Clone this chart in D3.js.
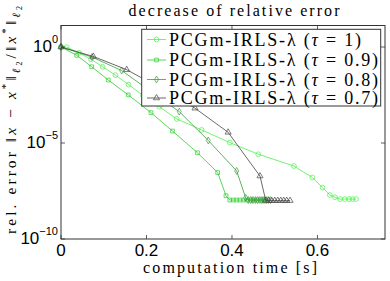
<!DOCTYPE html>
<html>
<head>
<meta charset="utf-8">
<script src="https://cdn.jsdelivr.net/npm/d3@7"></script>
<style>
  body { margin: 0; background: #fff; }
  svg { display: block; }
</style>
</head>
<body>
<div id="chart"></div>
<script>
// Width and height
var chart_width  = 390;
var chart_height = 281;
var margin = {left: 61, top: 25.5, right: 5, bottom: 42};

// data: computation time [s] and relative error
var time_tau1 = [0, 0.0133, 0.0421, 0.0702, 0.0975, 0.1275, 0.158, 0.192, 0.230, 0.2706, 0.329, 0.395,
                 0.4615, 0.545, 0.588, 0.612, 0.629, 0.641, 0.653, 0.664, 0.674, 0.682, 0.690];
var err_tau1  = [1, 0.98, 0.50, 0.23, 0.093, 0.034, 0.011, 3.0e-3, 7.8e-4, 1.8e-4, 4.8e-5, 1.05e-5,
                 2.6e-6, 6.3e-7, 1.6e-7, 4.7e-8, 1.95e-8, 1.5e-8, 1.2e-8, 1.2e-8, 1.2e-8, 1.2e-8, 1.2e-8];

var time_tau09 = [0, 0.0367, 0.0718, 0.1106, 0.1574, 0.2105, 0.2608, 0.3193, 0.3665, 0.386, 0.395,
                  0.403, 0.411, 0.419, 0.427, 0.435, 0.443, 0.451, 0.459, 0.467, 0.475];
var err_tau09  = [1, 0.37, 0.093, 0.019, 3.2e-3, 3.8e-4, 4.2e-5, 3.1e-6, 2.9e-7, 1.8e-8, 1.07e-8,
                  1.07e-8, 1.07e-8, 1.07e-8, 1.07e-8, 1.07e-8, 1.07e-8, 1.07e-8, 1.07e-8, 1.07e-8, 1.07e-8];

var time_tau08 = [0, 0.0725, 0.142, 0.209, 0.2767, 0.3446, 0.411, 0.432,
                  0.438, 0.444, 0.449, 0.455, 0.460, 0.465, 0.470, 0.475, 0.480, 0.485, 0.490];
var err_tau08  = [1, 0.30, 0.059, 5.1e-3, 4.3e-4, 1.35e-5, 3.5e-7, 1.4e-8,
                  1.07e-8, 1.07e-8, 1.07e-8, 1.07e-8, 1.07e-8, 1.07e-8, 1.07e-8, 1.07e-8, 1.07e-8, 1.07e-8, 1.07e-8];

var time_tau07 = [0, 0.0756, 0.1537, 0.234, 0.3135, 0.391, 0.4655, 0.479,
                  0.486, 0.493, 0.500, 0.507, 0.514, 0.521, 0.528, 0.536];
var err_tau07  = [1, 0.32, 0.066, 6.9e-3, 6.5e-4, 3.6e-5, 1.9e-7, 1.02e-8,
                  1.0e-8, 1.0e-8, 1.0e-8, 1.0e-8, 1.0e-8, 1.0e-8, 1.0e-8, 1.0e-8];

var tau_labels = ["1", "0.9", "0.8", "0.7"];
var x_ticks = [0, 0.2, 0.4, 0.6];
var y_tick_exps = [0, -5, -10];

var series = [
  {tau: tau_labels[0], t: time_tau1,  e: err_tau1,  color: "#4cf04c", marker: "circle"},
  {tau: tau_labels[1], t: time_tau09, e: err_tau09, color: "#2ecc2e", marker: "square"},
  {tau: tau_labels[2], t: time_tau08, e: err_tau08, color: "#3c9a3c", marker: "diamond"},
  {tau: tau_labels[3], t: time_tau07, e: err_tau07, color: "#444444", marker: "triangle"}
];

var svg = d3.select("#chart")
  .append("svg")
  .attr("width", chart_width)
  .attr("height", chart_height);

var x = d3.scaleLinear()
  .domain([0, 0.758])
  .range([margin.left, chart_width - margin.right]);

var y = d3.scaleLog()
  .domain([1e-10, Math.pow(10, 1.12)])
  .range([chart_height - margin.bottom, margin.top]);

var serif = "'Liberation Serif', 'DejaVu Serif', serif";
var sans = "'Liberation Sans', Arial, sans-serif";

// lines
var line = d3.line()
  .x(function(d){ return x(d[0]); })
  .y(function(d){ return y(d[1]); });

var symbols = {
  circle: d3.symbolCircle,
  square: d3.symbolSquare,
  diamond: d3.symbolDiamond,
  triangle: d3.symbolTriangle
};
var sym_size = {circle: 18, square: 14, diamond: 14, triangle: 16};

series.forEach(function(s){
  var pts = s.t.map(function(t, i){ return [t, s.e[i]]; });
  svg.append("path")
    .datum(pts)
    .attr("d", line)
    .attr("fill", "none")
    .attr("stroke", s.color)
    .attr("stroke-width", 0.8);

  svg.selectAll(null)
    .data(pts)
    .enter()
    .append("path")
    .attr("d", d3.symbol().type(symbols[s.marker]).size(sym_size[s.marker]))
    .attr("transform", function(d){ return "translate(" + x(d[0]) + "," + y(d[1]) + ")"; })
    .attr("fill", "none")
    .attr("stroke", s.color)
    .attr("stroke-width", 0.7);
});

// box and ticks
var x0 = x.range()[0], x1 = x.range()[1];
var y0 = y.range()[0], y1 = y.range()[1];

svg.append("rect")
  .attr("x", x0).attr("y", y1)
  .attr("width", x1 - x0).attr("height", y0 - y1)
  .attr("fill", "none")
  .attr("stroke", "#333")
  .attr("stroke-width", 1);

x_ticks.forEach(function(v){
  [[y0, -4], [y1, 4]].forEach(function(p){
    svg.append("line")
      .attr("x1", x(v)).attr("x2", x(v))
      .attr("y1", p[0]).attr("y2", p[0] + p[1])
      .attr("stroke", "#333").attr("stroke-width", 0.8);
  });
  svg.append("text")
    .attr("x", x(v)).attr("y", y0 + 17)
    .attr("text-anchor", "middle")
    .attr("font-family", sans)
    .attr("font-size", 17)
    .text(v);
});

y_tick_exps.forEach(function(p){
  var yy = y(Math.pow(10, p));
  [[x0, 4], [x1, -4]].forEach(function(q){
    svg.append("line")
      .attr("x1", q[0]).attr("x2", q[0] + q[1])
      .attr("y1", yy).attr("y2", yy)
      .attr("stroke", "#333").attr("stroke-width", 0.8);
  });
  var t = svg.append("text")
    .attr("x", x0 - 3).attr("y", yy + 5)
    .attr("text-anchor", "end")
    .attr("font-family", sans)
    .attr("font-size", 17);
  t.append("tspan").text("10");
  t.append("tspan")
    .attr("font-size", 11)
    .attr("dy", -9)
    .text(p === 0 ? "0" : "\u2212" + (-p));
});

// title and axis labels
svg.append("text")
  .attr("x", 234).attr("y", 15.5)
  .attr("text-anchor", "middle")
  .attr("font-family", serif)
  .attr("font-size", 16)
  .attr("textLength", 211)
  .attr("lengthAdjust", "spacing")
  .text("decrease of relative error");

svg.append("text")
  .attr("x", 230).attr("y", 272.5)
  .attr("text-anchor", "middle")
  .attr("font-family", serif)
  .attr("font-size", 16)
  .attr("textLength", 174)
  .attr("lengthAdjust", "spacing")
  .text("computation time [s]");

var yl = svg.append("text")
  .attr("transform", "translate(16,120) rotate(-90)")
  .attr("text-anchor", "middle")
  .attr("font-family", serif)
  .attr("font-size", 15.5)
  .attr("textLength", 228)
  .attr("lengthAdjust", "spacing");
yl.append("tspan").text("rel. error \u2016");
yl.append("tspan").attr("font-style", "italic").text("x");
yl.append("tspan").text(" \u2212 ");
yl.append("tspan").attr("font-style", "italic").text("x");
yl.append("tspan").attr("font-size", 11).attr("dy", -7).text("*");
yl.append("tspan").attr("dy", 7).text("\u2016");
yl.append("tspan").attr("font-size", 11).attr("font-style", "italic").attr("dy", 4).text("\u2113");
yl.append("tspan").attr("font-size", 8).attr("dy", 2).text("2");
yl.append("tspan").attr("dy", -6).text("/\u2016");
yl.append("tspan").attr("font-style", "italic").text("x");
yl.append("tspan").attr("font-size", 11).attr("dy", -7).text("*");
yl.append("tspan").attr("dy", 7).text("\u2016");
yl.append("tspan").attr("font-size", 11).attr("font-style", "italic").attr("dy", 4).text("\u2113");
yl.append("tspan").attr("font-size", 8).attr("dy", 2).text("2");

// legend
var lg = svg.append("g");
lg.append("rect")
  .attr("x", 141.7).attr("y", 29.3)
  .attr("width", 239).attr("height", 76.7)
  .attr("fill", "#fff")
  .attr("stroke", "#333")
  .attr("stroke-width", 1);

var row_y = [39.5, 60, 79.5, 98];
var row_len = [192, 209, 209, 209];
series.forEach(function(s, i){
  var ry = row_y[i];
  lg.append("line")
    .attr("x1", 147).attr("x2", 166)
    .attr("y1", ry).attr("y2", ry)
    .attr("stroke", s.color).attr("stroke-width", 0.8);
  lg.append("path")
    .attr("d", d3.symbol().type(symbols[s.marker]).size(sym_size[s.marker]))
    .attr("transform", "translate(156.5," + ry + ")")
    .attr("fill", "none")
    .attr("stroke", s.color)
    .attr("stroke-width", 0.7);
  var tx = lg.append("text")
    .attr("x", 169).attr("y", ry + 6)
    .attr("font-family", serif)
    .attr("font-size", 18)
    .attr("textLength", row_len[i])
    .attr("lengthAdjust", "spacing");
  tx.append("tspan").text("PCGm-IRLS-\u03bb (");
  tx.append("tspan").attr("font-style", "italic").text("\u03c4");
  tx.append("tspan").text(" = " + s.tau + ")");
});
</script>
</body>
</html>
